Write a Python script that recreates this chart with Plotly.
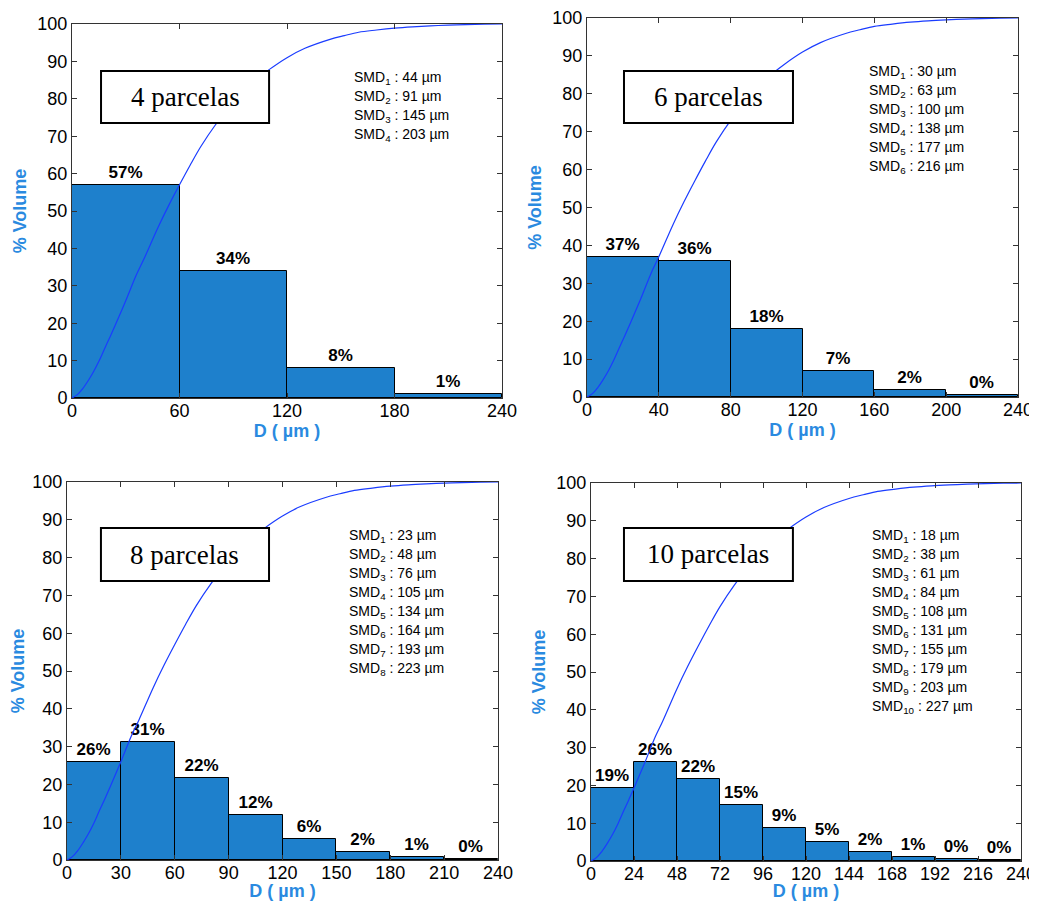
import plotly.graph_objects as go

# ---------------- data ----------------
panel_titles = ["4 parcelas", "6 parcelas", "8 parcelas", "10 parcelas"]

edges_4 = [0, 60, 120, 180, 240]
vals_4 = [57, 34, 7.9, 1.2]
labels_4 = ["57%", "34%", "8%", "1%"]
smd_4 = [44, 91, 145, 203]

edges_6 = [0, 40, 80, 120, 160, 200, 240]
vals_6 = [36.9, 35.9, 18.0, 6.8, 1.9, 0.6]
labels_6 = ["37%", "36%", "18%", "7%", "2%", "0%"]
smd_6 = [30, 63, 100, 138, 177, 216]

edges_8 = [0, 30, 60, 90, 120, 150, 180, 210, 240]
vals_8 = [25.8, 31.2, 21.7, 11.9, 5.6, 2.2, 0.8, 0.35]
labels_8 = ["26%", "31%", "22%", "12%", "6%", "2%", "1%", "0%"]
smd_8 = [23, 48, 76, 105, 134, 164, 193, 223]

edges_10 = [0, 24, 48, 72, 96, 120, 144, 168, 192, 216, 240]
vals_10 = [19.3, 26.3, 21.7, 14.9, 8.8, 4.9, 2.3, 1.15, 0.6, 0.2]
labels_10 = ["19%", "26%", "22%", "15%", "9%", "5%", "2%", "1%", "0%", "0%"]
smd_10 = [18, 38, 61, 84, 108, 131, 155, 179, 203, 227]

# cumulative volume curve (identical in all panels)
cum_x = [0, 3, 6, 9, 12, 15, 18, 21, 24, 30, 36, 40, 48, 54, 60, 66, 72, 80, 90,
         96, 104, 110, 120, 130, 144, 152, 160, 170, 180, 190, 200, 210, 220, 230, 240]
cum_y = [0, 0.9, 2.5, 4.6, 7.0, 9.8, 13.0, 16.1, 19.3, 26.0, 33.0, 37.0, 45.6, 51.5, 57.0,
         62.3, 67.3, 73.0, 79.0, 82.2, 85.6, 87.8, 91.0, 93.5, 95.9, 96.9, 97.8, 98.4,
         98.9, 99.25, 99.5, 99.7, 99.85, 99.95, 100]

panels = [
    (edges_4, vals_4, labels_4, smd_4),
    (edges_6, vals_6, labels_6, smd_6),
    (edges_8, vals_8, labels_8, smd_8),
    (edges_10, vals_10, labels_10, smd_10),
]

# ---------------- layout geometry ----------------
OFF = 8  # page body margin of the browser
W, H = 1037 - OFF, 901 - OFF
# pixel boxes of plot areas in the screenshot: (left, right, top, bottom)
boxes = [(72, 502, 24, 398), (587, 1018, 18, 397), (67, 498, 482, 860), (591, 1021, 483, 861)]
# title box in data coords (x0, x1, y0, y1)
tboxes = [(16.2, 110, 73.5, 87.4), (20.6, 114.7, 72.3, 86.0), (18.9, 112.5, 73.8, 87.8), (18.4, 112.7, 74.1, 88.1)]
# SMD text: left px, first line center px (screenshot)
smd_pos = [(352, 78), (867, 72), (347, 536), (870, 536)]

BAR = "#1e80cc"
LINE = "#1a3cff"
TITLE = "#2a8ae0"
AX = "#333333"
SANS = "Liberation Sans, Arial"

fig = go.Figure()
annotations = []
shapes = []

for i, (edges, vals, labels, smd) in enumerate(panels):
    n = i + 1
    xa = "x" if n == 1 else f"x{n}"
    ya = "y" if n == 1 else f"y{n}"
    centers = [(edges[k] + edges[k + 1]) / 2 for k in range(len(vals))]
    widths = [edges[k + 1] - edges[k] for k in range(len(vals))]
    fig.add_trace(go.Bar(
        x=centers, y=vals, width=widths, text=labels, textposition="outside",
        constraintext="none", cliponaxis=False,
        textfont=dict(family=SANS, size=17, color="black", weight="bold"),
        marker=dict(color=BAR, line=dict(color="black", width=1)),
        xaxis=xa, yaxis=ya, showlegend=False, hoverinfo="skip",
    ))
    fig.add_trace(go.Scatter(
        x=cum_x, y=cum_y, mode="lines", line=dict(color=LINE, width=1.2, shape="spline"),
        xaxis=xa, yaxis=ya, showlegend=False, hoverinfo="skip",
    ))

    l, r, t, b = [v - OFF for v in boxes[i]]
    dom_x = [l / W, r / W]
    dom_y = [1 - b / H, 1 - t / H]
    axis_font = dict(family=SANS, size=18, color="black")
    fig.update_layout(**{
        ("xaxis" if n == 1 else f"xaxis{n}"): dict(
            domain=dom_x, anchor=ya, range=[0, 240], tickvals=edges,
            ticks="inside", ticklen=5, tickcolor=AX, showline=True, linecolor=AX, linewidth=1,
            mirror="allticks", showgrid=False, zeroline=False, tickfont=axis_font,
            ticklabelstandoff=-4,
            title=dict(text="D ( µm )", standoff=0,
                       font=dict(family=SANS, size=18, color=TITLE, weight="bold")),
            automargin=False, fixedrange=True,
        ),
        ("yaxis" if n == 1 else f"yaxis{n}"): dict(
            domain=dom_y, anchor=xa, range=[0, 100], tickvals=list(range(0, 101, 10)),
            ticks="inside", ticklen=5, tickcolor=AX, showline=True, linecolor=AX, linewidth=1,
            mirror="allticks", showgrid=False, zeroline=False, tickfont=axis_font,
            title=dict(text="% Volume", standoff=6,
                       font=dict(family=SANS, size=18, color=TITLE, weight="bold")),
            automargin=False, fixedrange=True,
        ),
    })

    x0, x1, y0, y1 = tboxes[i]
    shapes.append(dict(type="rect", xref=xa, yref=ya, x0=x0, x1=x1, y0=y0, y1=y1,
                       fillcolor="white", line=dict(color="black", width=2), layer="above"))
    annotations.append(dict(x=(x0 + x1) / 2, y=(y0 + y1) / 2, xref=xa, yref=ya,
                            text=panel_titles[i], showarrow=False,
                            font=dict(family="Liberation Serif, Times New Roman", size=27, color="black")))

    sx, sy = smd_pos[i]
    for k, v in enumerate(smd):
        annotations.append(dict(
            x=(sx - OFF) / W, y=1 - (sy - OFF + 19 * k) / H, xref="paper", yref="paper",
            xanchor="left", yanchor="middle", showarrow=False,
            text=f"SMD<sub>{k + 1}</sub> : {v} µm",
            font=dict(family=SANS, size=14, color="black"),
        ))

fig.update_layout(
    width=W, height=H, margin=dict(l=0, r=0, t=0, b=0),
    paper_bgcolor="white", plot_bgcolor="white",
    shapes=shapes, annotations=annotations, bargap=0,
)

fig.write_html("out.html")
